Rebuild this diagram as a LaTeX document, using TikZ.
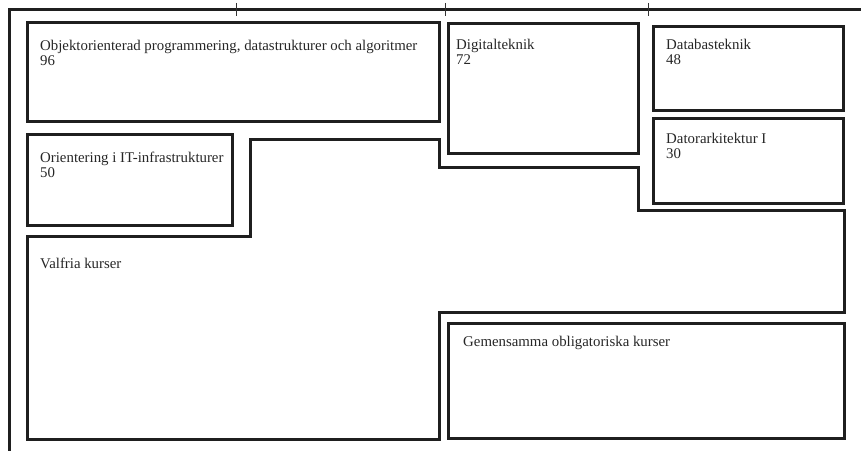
\documentclass[tikz,border=0pt]{standalone}
\usepackage{fontspec}
\setmainfont{Liberation Serif}
\begin{document}
\begin{tikzpicture}[x=1bp,y=-1bp,
  box/.style={draw=black!88, line width=3bp},
  axis/.style={draw=black!88, line width=3bp},
  tick/.style={draw=black!80, line width=1bp},
  lbl/.style={anchor=base west, inner sep=0pt, align=left, text=black!85,
    font=\fontsize{14.9}{15.5}\selectfont}]
\useasboundingbox (0,0) rectangle (861,451);
% axes
\coordinate (ao) at (9.5,10);
\coordinate (ax) at (861,10);
\coordinate (ay) at (9.5,451);
\draw[axis] (ay) -- (ao) -- (ax);
\foreach \t in {236,445,648} \draw[tick] (\t,3) -- (\t,16);
% boxes
\draw[box] (27,23) rectangle (439,122);
\draw[box] (27,135) rectangle (232,226);
\draw[box] (448,24) rectangle (638,154);
\draw[box] (653,27) rectangle (843,111);
\draw[box] (653,119) rectangle (843,204);
\draw[box] (448,324) rectangle (844,438);
\draw[box] (27,237) -- (250,237) -- (250,140) -- (439,140) -- (439,168) -- (638,168)
  -- (638,211) -- (844,211) -- (844,313) -- (439,313) -- (439,439) -- (27,439) -- cycle;
% labels (base = baseline of the last line)
\node[lbl] (t1) at (40,66) {Objektorienterad programmering, datastrukturer och algoritmer\\96};
\node[lbl] (t2) at (40,178) {Orientering i IT-infrastrukturer\\50};
\node[lbl] (t3) at (456,64.5) {Digitalteknik\\72};
\node[lbl] (t4) at (666,65) {Databasteknik\\48};
\node[lbl] (t5) at (666,158.5) {Datorarkitektur I\\30};
\node[lbl] (t6) at (40,269) {Valfria kurser};
\node[lbl] (t7) at (463,347) {Gemensamma obligatoriska kurser};
\end{tikzpicture}
\end{document}
